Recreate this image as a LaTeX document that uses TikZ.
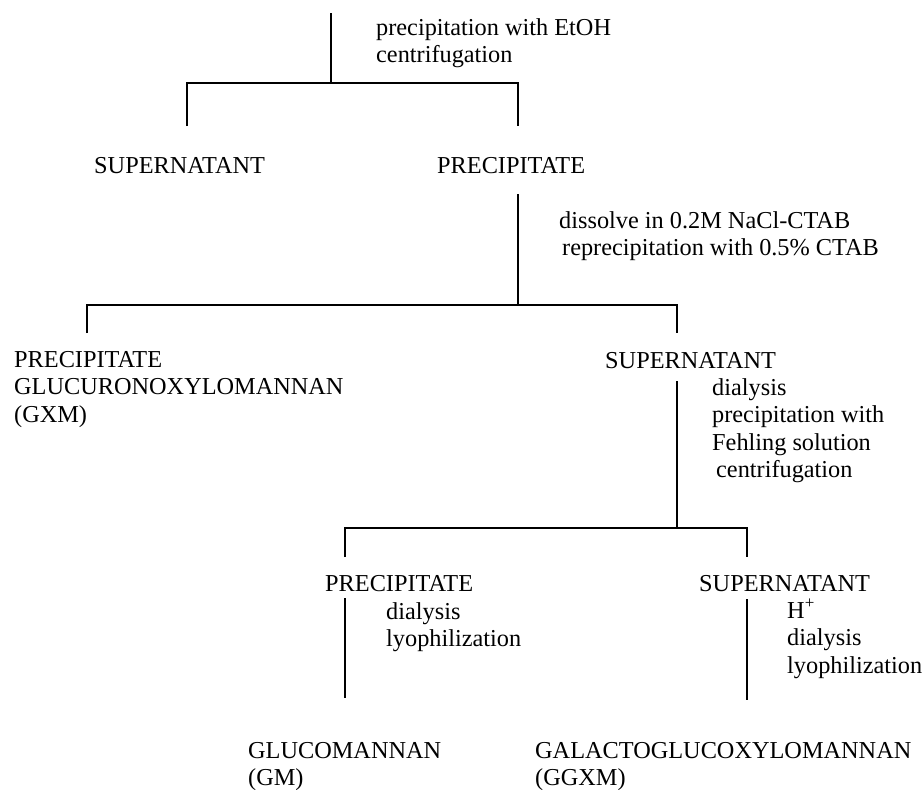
\documentclass[tikz,border=0pt]{standalone}
\usepackage{fontspec}
\setmainfont{Liberation Serif}
\usetikzlibrary{positioning}

\begin{document}
\begin{tikzpicture}[x=1pt,y=-1pt,
  txt/.style={anchor=base west,inner sep=0pt,align=left,font=\fontsize{24.3}{27.5}\selectfont},
  ln/.style={black,line width=1.2pt}]
\useasboundingbox (0,0) rectangle (924,790);
% first split: EtOH (multi-line texts sit on the baseline of their last line)
\coordinate (top) at (331,13);
\coordinate (j1) at (331,83);
\coordinate (j1l) at (187,83);
\coordinate (j1r) at (518,83);
\coordinate (e1l) at (187,126);
\coordinate (e1r) at (518,126);
\node[txt] (etoh) at (376,62.5) {precipitation with EtOH\\centrifugation};
\node[txt] (sup1) at (94,173) {SUPERNATANT};
\node[txt] (pre1) at (437,173) {PRECIPITATE};
\draw[ln] (top)--(j1);
\draw[ln] (e1l)--(j1l)--(j1r)--(e1r);
% second split: CTAB
\coordinate (s2) at (518,194);
\coordinate (j2) at (518,305);
\coordinate (j2l) at (87,305);
\coordinate (j2r) at (677,305);
\coordinate (e2l) at (87,333);
\coordinate (e2r) at (677,333);
\node[txt] (ctab) at (559,255.5) {dissolve in 0.2M NaCl-CTAB\\\hspace{3pt}reprecipitation with 0.5\% CTAB};
\node[txt] (gxm) at (14,422) {PRECIPITATE\\GLUCURONOXYLOMANNAN\\(GXM)};
\node[txt] (sup2) at (605,368) {SUPERNATANT};
\draw[ln] (s2)--(j2);
\draw[ln] (e2l)--(j2l)--(j2r)--(e2r);
% third split: Fehling
\coordinate (s3) at (677,381);
\coordinate (j3) at (677,528);
\coordinate (j3l) at (345,528);
\coordinate (j3r) at (747,528);
\coordinate (e3l) at (345,557);
\coordinate (e3r) at (747,557);
\node[txt] (fehl) at (712,477.5) {dialysis\\precipitation with\\Fehling solution\\\hspace{4pt}centrifugation};
\node[txt] (pre3) at (325,591) {PRECIPITATE};
\node[txt] (sup3) at (699,591) {SUPERNATANT};
\draw[ln] (s3)--(j3);
\draw[ln] (e3l)--(j3l)--(j3r)--(e3r);
% final products
\coordinate (s4l) at (345,598);
\coordinate (e4l) at (345,698);
\coordinate (s4r) at (747,599);
\coordinate (e4r) at (747,700);
\node[txt] (lyo1) at (386,646.5) {dialysis\\lyophilization};
\node[txt] (lyo2) at (787,673) {H\textsuperscript{+}\\dialysis\\lyophilization};
\node[txt] (gm) at (248,785.5) {GLUCOMANNAN\\(GM)};
\node[txt] (ggxm) at (535,785.5) {GALACTOGLUCOXYLOMANNAN\\(GGXM)};
\draw[ln] (s4l)--(e4l);
\draw[ln] (s4r)--(e4r);
\end{tikzpicture}
\end{document}
